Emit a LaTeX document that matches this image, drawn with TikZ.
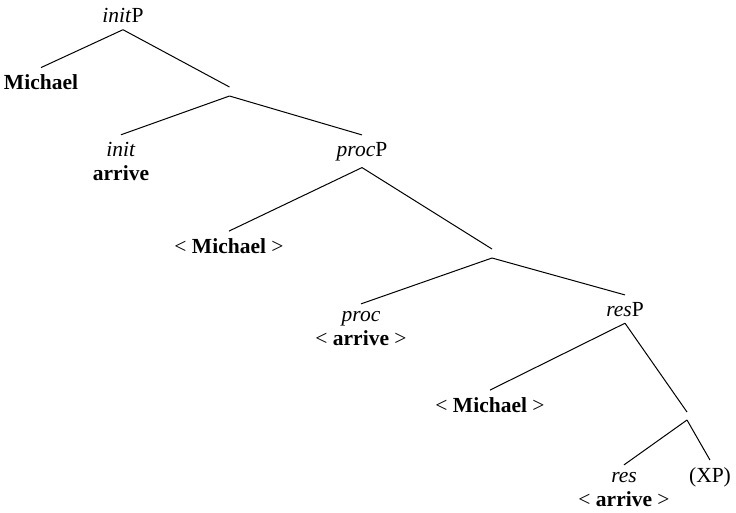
\documentclass[tikz,border=0pt]{standalone}
\usepackage{fontspec}
\setmainfont{Liberation Serif}
% two centred lines; the box's baseline is that of the first line
\newcommand\stacked[2]{\vtop{\halign{\hfil##\hfil\cr#1\cr#2\cr}}}
\begin{document}
\begin{tikzpicture}[x=1pt,y=-1pt,
  lbl/.style={anchor=base, inner sep=0pt, outer xsep=0pt, outer ysep=7pt,
    font=\fontsize{21.5}{24}\selectfont},
  branch/.style={inner sep=0pt, outer sep=0pt, minimum width=0pt, minimum height=9pt},
  branchline/.style={line width=1pt}]
\useasboundingbox (0,0) rectangle (736,512);

% labels
\node[lbl] (initP) at (123,22.5) {\textit{init}P};
\node[lbl] (michael) at (41,89.5) {\textbf{Michael}};
\node[lbl] (initH) at (121,156) {\stacked{\textit{init}}{\textbf{arrive}}};
\node[lbl] (procP) at (362,156) {\textit{proc}P};
\node[lbl] (mich2) at (229,253) {< \textbf{Michael} >};
\node[lbl] (procH) at (361,321) {\stacked{\textit{proc}}{< \textbf{arrive} >}};
\node[lbl] (resP) at (625,316) {\textit{res}P};
\node[lbl] (mich3) at (490,412) {< \textbf{Michael} >};
\node[lbl] (resH) at (624,482) {\stacked{\textit{res}}{< \textbf{arrive} >}};
\node[lbl] (xp) at (710,482) {(XP)};

% unlabelled branching points
\node[branch] (b1) at (229.5,91.5) {};
\node[branch] (b2) at (492,253.5) {};
\node[branch, minimum height=8pt] (b3) at (687,416) {};

% branches
\begin{scope}[branchline]
\draw (initP.south) -- (michael.north);
\draw (initP.south) -- (b1.north);
\draw (b1.south) -- (initH.north);
\draw (b1.south) -- (procP.north);
\draw (procP.south) -- (mich2.north);
\draw (procP.south) -- (b2.north);
\draw (b2.south) -- (procH.north);
\draw (b2.south) -- (resP.north);
\draw (resP.south) -- (mich3.north);
\draw (resP.south) -- (b3.north);
\draw (b3.south) -- (resH.north);
\draw (b3.south) -- (xp.north);
\end{scope}
\end{tikzpicture}
\end{document}
